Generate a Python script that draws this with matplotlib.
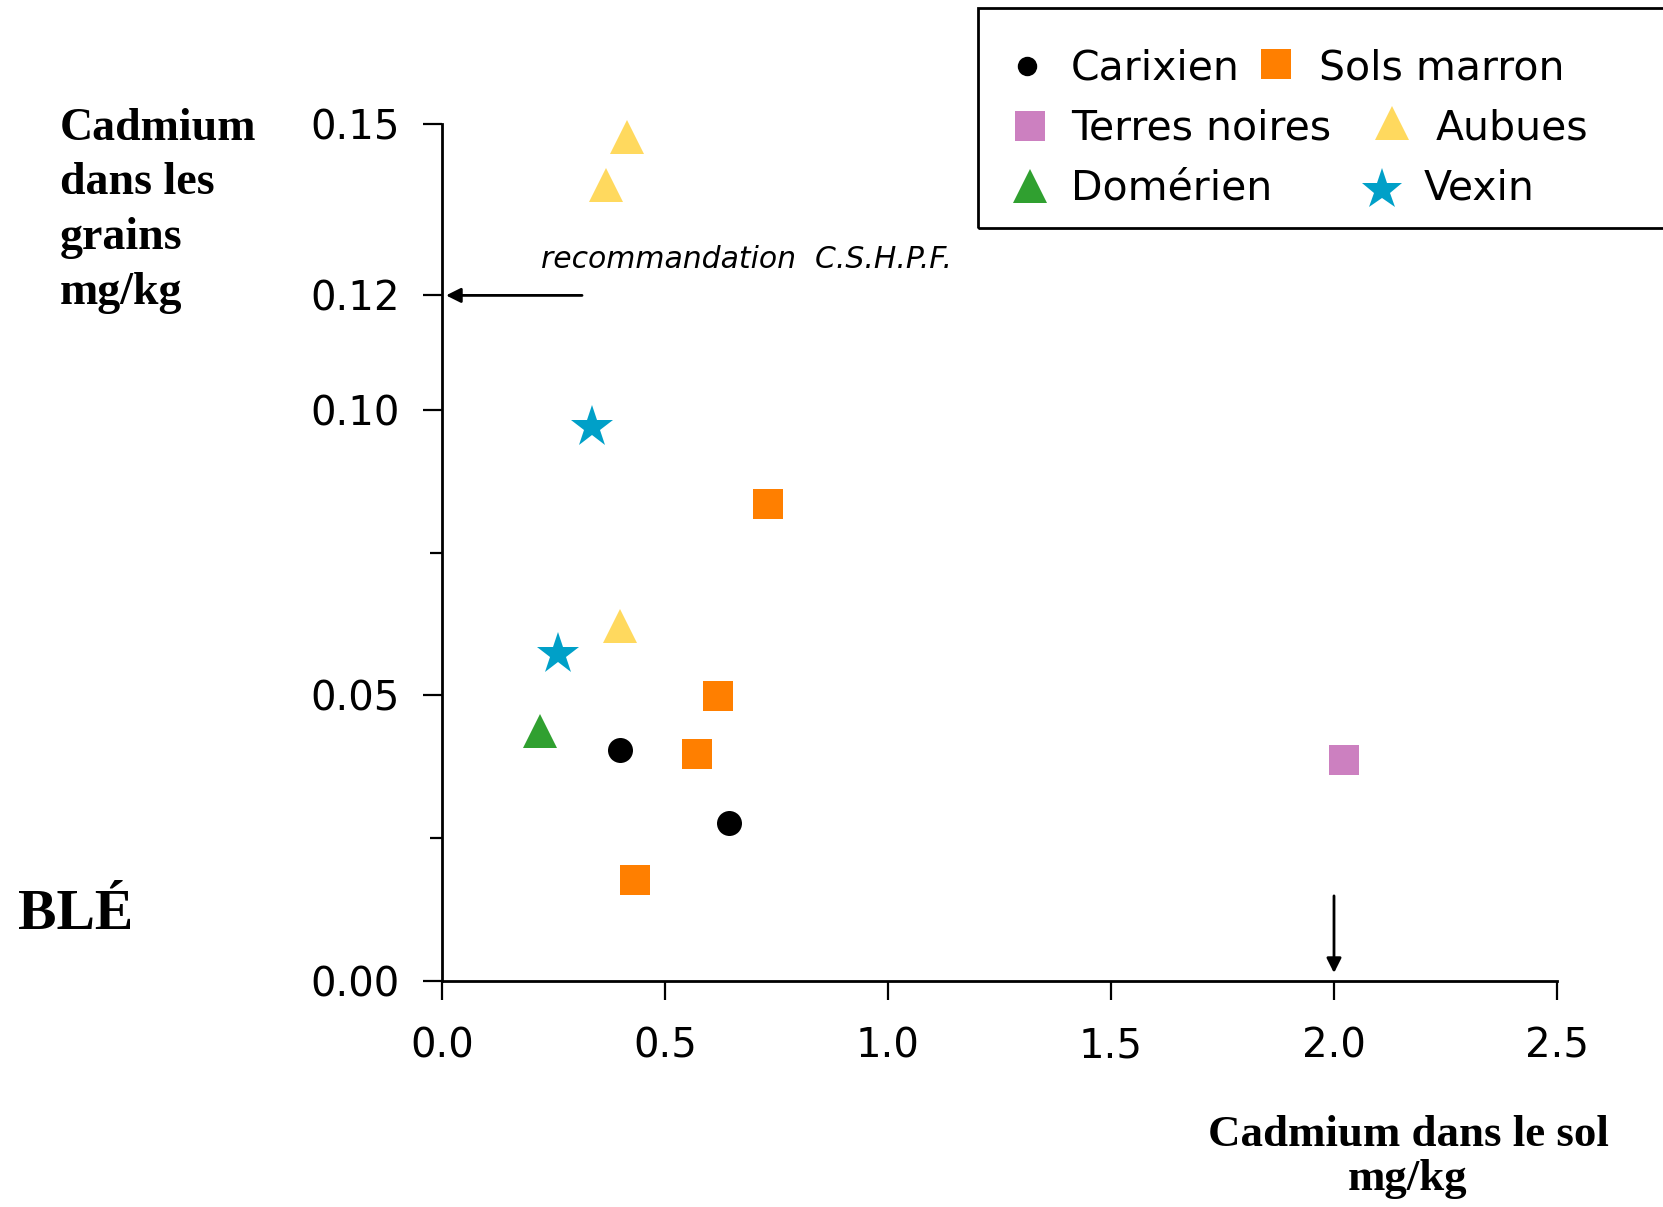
import matplotlib
matplotlib.use('Agg')
import matplotlib.pyplot as plt
from matplotlib.patches import Rectangle
from matplotlib.lines import Line2D

# ---------------- data ----------------
carixien_x = [0.40, 0.643]
carixien_y = [0.0404, 0.0276]
sols_x = [0.731, 0.619, 0.571, 0.432]
sols_y = [0.0835, 0.0498, 0.0398, 0.0177]
terres_x = [2.022]
terres_y = [0.0386]
aubues_x = [0.415, 0.368, 0.398]
aubues_y = [0.1477, 0.1394, 0.0621]
domerien_x = [0.220]
domerien_y = [0.0438]
vexin_x = [0.336, 0.260]
vexin_y = [0.0970, 0.0572]

x_ticks = [0.0, 0.5, 1.0, 1.5, 2.0, 2.5]
x_tick_labels = ["0.0", "0.5", "1.0", "1.5", "2.0", "2.5"]
y_ticks = [0.00, 0.05, 0.10, 0.12, 0.15]
y_tick_labels = ["0.00", "0.05", "0.10", "0.12", "0.15"]
y_minor_ticks = [0.025, 0.075]

recommandation_y = 0.12
sol_limit_x = 2.0

# ---------------- figure ----------------
W, H = 1663, 1207
fig = plt.figure(figsize=(W / 100, H / 100), dpi=100)
fig.patch.set_facecolor('white')

def fx(px):
    return px / W

def fy(py):
    return 1 - py / H

ax = fig.add_axes([fx(442), fy(981), 1115 / W, 857 / H])
ax.set_xlim(0, 2.5)
ax.set_ylim(0, 0.15)

styles = {
    'Carixien': dict(marker='o', color='black', ms=18),
    'Sols marron': dict(marker='s', color='#FF7F00', ms=21),
    'Terres noires': dict(marker='s', color='#CC80C0', ms=21),
    'Aubues': dict(marker='^', color='#FFD95E', ms=24),
    'Domérien': dict(marker='^', color='#30A030', ms=24),
    'Vexin': dict(marker='*', color='#00A0C8', ms=32),
}
series = [
    ('Carixien', carixien_x, carixien_y),
    ('Sols marron', sols_x, sols_y),
    ('Terres noires', terres_x, terres_y),
    ('Aubues', aubues_x, aubues_y),
    ('Domérien', domerien_x, domerien_y),
    ('Vexin', vexin_x, vexin_y),
]
for name, xs, ys in series:
    st = styles[name]
    ax.plot(xs, ys, linestyle='none', marker=st['marker'], color=st['color'],
            markersize=st['ms'], markeredgewidth=0, clip_on=False)

# spines & ticks
for s in ['top', 'right']:
    ax.spines[s].set_visible(False)
for s in ['left', 'bottom']:
    ax.spines[s].set_linewidth(2)
ax.set_xticks(x_ticks)
ax.set_xticklabels(x_tick_labels)
ax.set_yticks(y_ticks)
ax.set_yticklabels(y_tick_labels)
ax.set_yticks(y_minor_ticks, minor=True)
ax.tick_params(axis='both', which='major', direction='out', length=13.5, width=1.6,
               labelsize=29)
ax.tick_params(axis='x', which='major', pad=19)
ax.tick_params(axis='y', which='major', pad=17)
ax.tick_params(axis='y', which='minor', direction='out', length=9, width=1.6)
for lab in ax.get_xticklabels() + ax.get_yticklabels():
    lab.set_fontfamily('DejaVu Sans')

# arrows
ax.annotate('', xy=(0.009, recommandation_y), xytext=(0.314, recommandation_y),
            arrowprops=dict(arrowstyle='-|>', lw=2, color='black', mutation_scale=22,
                            shrinkA=0, shrinkB=0))
ax.annotate('', xy=(sol_limit_x, 0.0014), xytext=(sol_limit_x, 0.0149),
            arrowprops=dict(arrowstyle='-|>', lw=2, color='black', mutation_scale=22,
                            shrinkA=0, shrinkB=0))
ax.text(0.222, 0.1262, 'recommandation  C.S.H.P.F.', fontsize=21.5, style='italic',
        fontfamily='DejaVu Sans', va='center', ha='left')

# titles
serif = dict(fontfamily='Liberation Serif', fontweight='bold')
ylines = ["Cadmium", "dans les", "grains", "mg/kg"]
for i, t in enumerate(ylines):
    fig.text(fx(60), fy(140 + 54.5 * i), t, fontsize=33, va='baseline', ha='left', **serif)
fig.text(fx(1408), fy(1146), "Cadmium dans le sol", fontsize=32.3, va='baseline', ha='center', **serif)
fig.text(fx(1408), fy(1190), "mg/kg", fontsize=32.3, va='baseline', ha='center', **serif)
fig.text(fx(18), fy(929), "BLÉ", fontsize=41.5, va='baseline', ha='left', **serif)

# legend (manual layout)
fig.add_artist(Rectangle((fx(978), fy(228)), 1.0, (228 - 8) / H, transform=fig.transFigure,
                         fill=False, edgecolor='black', linewidth=2, clip_on=False))
legend_items = [
    ('Carixien', 1027, 66, 1071, 80, 14),
    ('Terres noires', 1030, 126, 1071, 140, 21),
    ('Domérien', 1030, 186, 1071, 200, 24),
    ('Sols marron', 1276, 64, 1319, 80, 21),
    ('Aubues', 1392, 123, 1436, 140, 24),
    ('Vexin', 1382, 190, 1424, 200, 31),
]
for name, mx, my, tx, ty, ms in legend_items:
    st = styles[name]
    fig.add_artist(Line2D([fx(mx)], [fy(my)], transform=fig.transFigure, linestyle='none',
                          marker=st['marker'], color=st['color'], markersize=ms,
                          markeredgewidth=0))
    fig.text(fx(tx), fy(ty), name, fontsize=29.5, fontfamily='DejaVu Sans',
             va='baseline', ha='left')

fig.savefig('out.png', dpi=100, facecolor='white')
